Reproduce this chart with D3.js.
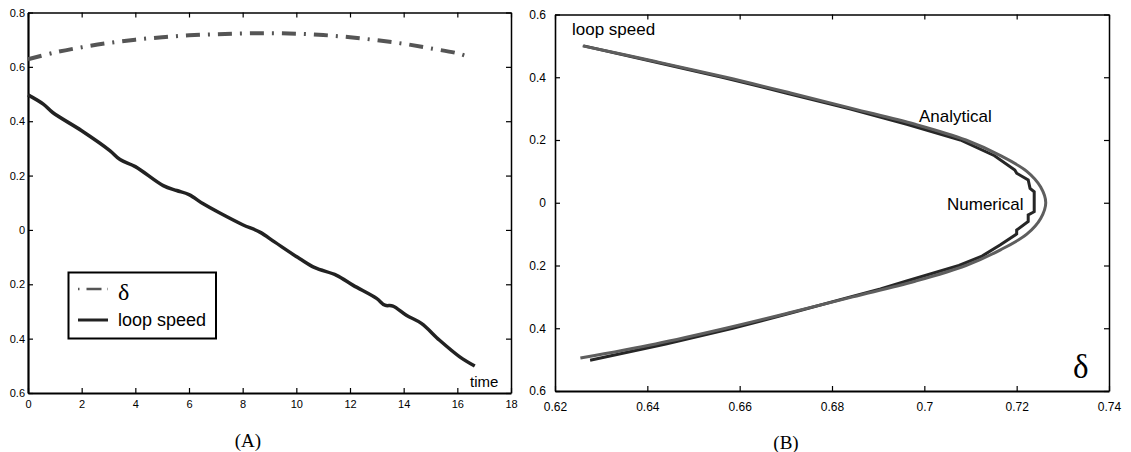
<!DOCTYPE html>
<html>
<head>
<meta charset="utf-8">
<script src="https://cdn.jsdelivr.net/npm/d3@7"></script>
<style>
  body { margin: 0; background: #fff; }
  svg { display: block; font-family: "Liberation Sans", Arial, sans-serif; }
  .serif { font-family: "Liberation Serif", "Times New Roman", serif; }
</style>
</head>
<body>
<script>
'use strict';

// panel A: time series
var timeTicks = [0, 2, 4, 6, 8, 10, 12, 14, 16, 18];
var leftTicks = [-0.6, -0.4, -0.2, 0, 0.2, 0.4, 0.6, 0.8];
var leftLabels = ['0.6', '0.4', '0.2', '0', '0.2', '0.4', '0.6', '0.8'];

var deltaTime = [0, 1, 2, 3, 4, 5, 6, 7, 8, 9, 10, 11, 12, 13, 14, 15, 16, 16.5];
var deltaValue = [0.628, 0.653, 0.672, 0.688, 0.700, 0.709, 0.716, 0.720, 0.723, 0.724,
  0.722, 0.717, 0.709, 0.698, 0.685, 0.668, 0.650, 0.634];

var speedTime = [0, 0.57, 0.92, 2, 3.05, 3.43, 4, 5.04, 5.54, 6, 6.53, 7.15, 8, 8.64, 9.2,
  10.13, 10.69, 11.5, 12.12, 12.99, 13.3, 13.6, 14.1, 14.66, 15.34, 16.09, 16.65];
var speedValue = [0.497, 0.463, 0.432, 0.365, 0.292, 0.259, 0.233, 0.163, 0.145, 0.130, 0.096,
  0.062, 0.019, -0.008, -0.045, -0.106, -0.139, -0.167, -0.204, -0.252, -0.277, -0.280,
  -0.314, -0.344, -0.406, -0.467, -0.501];

// panel B: loop speed against delta
var deltaTicks = [0.62, 0.64, 0.66, 0.68, 0.70, 0.72, 0.74];
var deltaLabels = ['0.62', '0.64', '0.66', '0.68', '0.7', '0.72', '0.74'];
var rightTicks = [-0.6, -0.4, -0.2, 0, 0.2, 0.4, 0.6];
var rightLabels = ['0.6', '0.4', '0.2', '0', '0.2', '0.4', '0.6'];

var analyticSpeed = [0.5, 0.45, 0.4, 0.35, 0.3, 0.25, 0.2, 0.15, 0.1, 0.05, 0,
  -0.05, -0.1, -0.15, -0.2, -0.25, -0.3, -0.35, -0.4, -0.45, -0.495];
var analyticDelta = [0.626, 0.6418, 0.657, 0.671, 0.6845, 0.698, 0.709, 0.7165, 0.7222, 0.7252, 0.7263,
  0.7252, 0.7222, 0.7165, 0.709, 0.698, 0.6845, 0.671, 0.657, 0.6418, 0.6255];

var numericSpeed = [0.5, 0.45, 0.4, 0.35, 0.3, 0.27, 0.25, 0.2, 0.15, 0.1045, 0.094, 0.0726,
  0.046, 0.035, -0.0285, -0.039, -0.060, -0.087, -0.0997, -0.135, -0.17, -0.2, -0.25, -0.275,
  -0.3, -0.35, -0.4, -0.45, -0.502];
var numericDelta = [0.6262, 0.6412, 0.6562, 0.6700, 0.6836, 0.6912, 0.6962, 0.7078, 0.7152,
  0.7196, 0.7200, 0.7225, 0.7229, 0.7238, 0.7238, 0.7225, 0.7225, 0.7200, 0.7200, 0.7164,
  0.7125, 0.7075, 0.6960, 0.6905, 0.6840, 0.6715, 0.6585, 0.6440, 0.6276];

var svg = d3.select('body').append('svg')
  .attr('width', 1131)
  .attr('height', 452);

//scales for both panels
var xA = d3.scaleLinear().domain([0, 18]).range([28, 511]);
var yA = d3.scaleLinear().domain([-0.6, 0.8]).range([393, 12.5]);
var xB = d3.scaleLinear().domain([0.62, 0.74]).range([555, 1109]);
var yB = d3.scaleLinear().domain([-0.6, 0.6]).range([391, 14.5]);

/* Draw a boxed frame with inward ticks on all sides. */
function frame(x, y, xTicks, xLabels, yTicks, yLabels, opts) {
  var x0 = x.range()[0], x1 = x.range()[1];
  var y0 = y.range()[0], y1 = y.range()[1];
  var g = svg.append('g');

  var bottom = g.append('g')
    .attr('transform', 'translate(0,' + y0 + ')')
    .call(d3.axisBottom(x).tickValues(xTicks).tickSize(-5).tickSizeOuter(0)
      .tickPadding(opts.xPad).tickFormat(function(d, i) { return xLabels[i]; }));
  var left = g.append('g')
    .attr('transform', 'translate(' + x0 + ',0)')
    .call(d3.axisLeft(y).tickValues(yTicks).tickSize(-5).tickSizeOuter(0)
      .tickPadding(opts.yPad).tickFormat(function(d, i) { return yLabels[i]; }));
  var top = g.append('g')
    .attr('transform', 'translate(0,' + y1 + ')')
    .call(d3.axisTop(x).tickValues(xTicks).tickSize(-5).tickSizeOuter(0).tickFormat(''));
  var right = g.append('g')
    .attr('transform', 'translate(' + x1 + ',0)')
    .call(d3.axisRight(y).tickValues(yTicks).tickSize(-5).tickSizeOuter(0).tickFormat(''));

  [bottom, left, top, right].forEach(function(a) {
    a.select('.domain').attr('stroke', '#000');
    a.selectAll('.tick line').attr('stroke', '#000').attr('stroke-width', 1.2);
    a.selectAll('text').attr('fill', '#000')
      .style('font-family', '"Liberation Sans", Arial, sans-serif')
      .style('font-size', opts.fontSize + 'px');
  });
  bottom.select('.domain').attr('stroke-width', 2.2);
  left.select('.domain').attr('stroke-width', opts.leftWidth);
  top.select('.domain').attr('stroke-width', 1.5);
  right.select('.domain').attr('stroke-width', 1.5);
  return g;
}

frame(xA, yA, timeTicks, timeLabels(), leftTicks, leftLabels,
  {xPad: 7, yPad: 3, fontSize: 11, leftWidth: 2.2});
frame(xB, yB, deltaTicks, deltaLabels, rightTicks, rightLabels,
  {xPad: 11, yPad: 9, fontSize: 12, leftWidth: 1.6});

function timeLabels() {
  return timeTicks.map(function(d) { return String(d); });
}

// panel A curves
var lineA = d3.line().curve(d3.curveCatmullRom)
  .x(function(d) { return xA(d[0]); })
  .y(function(d) { return yA(d[1]); });

svg.append('path')
  .datum(d3.zip(deltaTime, deltaValue))
  .attr('d', lineA)
  .attr('fill', 'none')
  .attr('stroke', '#555')
  .attr('stroke-width', 4)
  .attr('stroke-dasharray', '14,8,2,8');

svg.append('path')
  .datum(d3.zip(speedTime, speedValue))
  .attr('d', lineA)
  .attr('fill', 'none')
  .attr('stroke', '#222')
  .attr('stroke-width', 3.5)
  .attr('stroke-linejoin', 'round');

svg.append('text')
  .attr('x', 470).attr('y', 387)
  .style('font-size', '15px')
  .text('time');

// legend
var legend = svg.append('g');
legend.append('rect')
  .attr('x', 68.5).attr('y', 272.5)
  .attr('width', 147.5).attr('height', 66)
  .attr('fill', '#fff').attr('stroke', '#000').attr('stroke-width', 2);
legend.append('line')
  .attr('x1', 78).attr('x2', 108).attr('y1', 289).attr('y2', 289)
  .attr('stroke', '#555').attr('stroke-width', 2.5)
  .attr('stroke-dasharray', '1.5,7,15,6,1.5');
legend.append('line')
  .attr('x1', 78).attr('x2', 108).attr('y1', 320).attr('y2', 320)
  .attr('stroke', '#222').attr('stroke-width', 3);
legend.append('text').attr('class', 'serif')
  .attr('x', 118).attr('y', 300)
  .style('font-size', '24px')
  .text('δ');
legend.append('text')
  .attr('x', 118).attr('y', 326)
  .style('font-size', '18px')
  .text('loop speed');

// panel B curves
var lineB = d3.line()
  .x(function(d) { return xB(d[0]); })
  .y(function(d) { return yB(d[1]); });

svg.append('path')
  .datum(d3.zip(numericDelta, numericSpeed))
  .attr('d', lineB)
  .attr('fill', 'none')
  .attr('stroke', '#262626')
  .attr('stroke-width', 3);

svg.append('path')
  .datum(d3.zip(analyticDelta, analyticSpeed))
  .attr('d', lineB.curve(d3.curveCatmullRom))
  .attr('fill', 'none')
  .attr('stroke', '#5e5e5e')
  .attr('stroke-width', 3);

svg.append('text').attr('x', 572).attr('y', 35).style('font-size', '17px').text('loop speed');
svg.append('text').attr('x', 919).attr('y', 122).style('font-size', '17px').text('Analytical');
svg.append('text').attr('x', 947).attr('y', 210).style('font-size', '17px').text('Numerical');
svg.append('text').attr('class', 'serif')
  .attr('x', 1073).attr('y', 378)
  .style('font-size', '33px')
  .text('δ');

// panel captions
svg.append('text').attr('class', 'serif')
  .attr('x', 248).attr('y', 447)
  .attr('text-anchor', 'middle')
  .style('font-size', '19px')
  .text('(A)');
svg.append('text').attr('class', 'serif')
  .attr('x', 786).attr('y', 449)
  .attr('text-anchor', 'middle')
  .style('font-size', '19px')
  .text('(B)');
</script>
</body>
</html>
